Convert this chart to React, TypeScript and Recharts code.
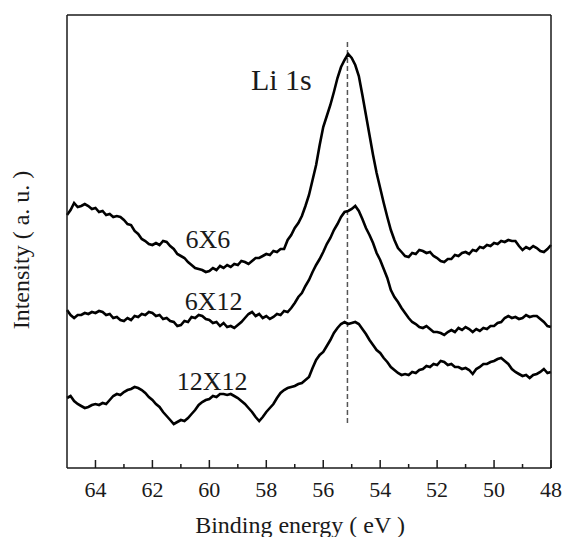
import React from "react";
import { LineChart, Line, XAxis, YAxis, ReferenceLine, ReferenceDot } from "recharts";

// binding energy grid (eV), read left to right
const energy = [
  65, 64.875, 64.75, 64.625, 64.5, 64.375, 64.25, 64.125, 64, 63.875, 63.75, 63.625, 63.5, 63.375, 63.25, 63.125,
  63, 62.875, 62.75, 62.625, 62.5, 62.375, 62.25, 62.125, 62, 61.875, 61.75, 61.625, 61.5, 61.375, 61.25, 61.125,
  61, 60.875, 60.75, 60.625, 60.5, 60.375, 60.25, 60.125, 60, 59.875, 59.75, 59.625, 59.5, 59.375, 59.25, 59.125,
  59, 58.875, 58.75, 58.625, 58.5, 58.375, 58.25, 58.125, 58, 57.875, 57.75, 57.625, 57.5, 57.375, 57.25, 57.125,
  57, 56.875, 56.75, 56.625, 56.5, 56.375, 56.25, 56.125, 56, 55.875, 55.75, 55.625, 55.5, 55.375, 55.25, 55.125,
  55, 54.875, 54.75, 54.625, 54.5, 54.375, 54.25, 54.125, 54, 53.875, 53.75, 53.625, 53.5, 53.375, 53.25, 53.125,
  53, 52.875, 52.75, 52.625, 52.5, 52.375, 52.25, 52.125, 52, 51.875, 51.75, 51.625, 51.5, 51.375, 51.25, 51.125,
  51, 50.875, 50.75, 50.625, 50.5, 50.375, 50.25, 50.125, 50, 49.875, 49.75, 49.625, 49.5, 49.375, 49.25, 49.125,
  49, 48.875, 48.75, 48.625, 48.5, 48.375, 48.25, 48.125, 48,
];

// intensities (a.u., curves already offset as in the figure)
const s6x6 = [
  253, 258, 265, 261, 262, 264, 262, 259, 260, 256, 257, 253, 254, 251, 252, 251,
  248, 244, 243, 237, 234, 229, 227, 224, 223, 225, 223, 227, 226, 222, 219, 214,
  212, 210, 206, 203, 200, 199, 198, 196, 197, 200, 198, 202, 200, 203, 201, 204,
  203, 207, 206, 204, 207, 210, 210, 212, 214, 213, 217, 216, 219, 219, 228, 233,
  240, 245, 252, 262, 273, 288, 303, 323, 341, 352, 363, 376, 390, 401, 408, 414,
  410, 403, 392, 373, 353, 333, 313, 295, 280, 265, 251, 238, 228, 220, 216, 212,
  211, 215, 214, 218, 217, 215, 216, 212, 210, 207, 206, 209, 209, 213, 212, 215,
  216, 214, 218, 217, 221, 220, 223, 222, 225, 224, 227, 226, 228, 227, 227, 222,
  218, 221, 219, 222, 220, 217, 216, 219, 223,
];
const s6x12 = [
  158, 153, 150, 153, 153, 155, 154, 156, 155, 157, 156, 153, 154, 150, 151, 148,
  147, 150, 148, 152, 151, 154, 153, 156, 155, 152, 153, 149, 150, 147, 146, 142,
  143, 147, 146, 151, 150, 153, 152, 149, 148, 145, 146, 142, 145, 141, 142, 140,
  143, 146, 150, 154, 156, 152, 154, 150, 152, 149, 151, 154, 153, 157, 156, 160,
  165, 171, 175, 182, 188, 196, 203, 209, 216, 224, 230, 238, 244, 251, 256, 257,
  259, 262, 257, 249, 240, 233, 225, 215, 208, 199, 190, 178, 171, 166, 160, 155,
  150, 146, 144, 141, 140, 142, 139, 136, 136, 135, 133, 136, 138, 136, 140, 138,
  141, 139, 136, 139, 137, 140, 139, 142, 142, 145, 146, 150, 152, 150, 151, 149,
  150, 153, 151, 152, 152, 149, 146, 142, 141,
];
const s12x12 = [
  70, 72, 67, 64, 62, 60, 61, 63, 64, 63, 65, 64, 68, 72, 74, 73,
  76, 78, 79, 81, 80, 78, 75, 71, 68, 64, 61, 56, 52, 48, 44, 46,
  48, 47, 50, 54, 58, 63, 66, 68, 69, 72, 71, 74, 74, 73, 74, 72,
  70, 67, 64, 60, 56, 51, 47, 51, 56, 60, 64, 70, 75, 78, 80, 81,
  82, 84, 85, 88, 91, 100, 108, 113, 116, 122, 128, 135, 140, 144, 146, 144,
  145, 146, 144, 139, 134, 128, 123, 118, 115, 110, 106, 101, 98, 95, 93, 94,
  93, 96, 95, 98, 99, 102, 101, 104, 103, 107, 106, 103, 104, 101, 101, 99,
  100, 98, 94, 99, 101, 104, 104, 106, 107, 109, 110, 107, 104, 99, 96, 94,
  92, 93, 90, 93, 94, 96, 99, 95, 96,
];

const xTicks = [64, 63, 62, 61, 60, 59, 58, 57, 56, 55, 54, 53, 52, 51, 50, 49, 48];
const peakPos = 55.15;

const data = energy.map((e, i) => ({ e, a: s6x6[i], b: s6x12[i], c: s12x12[i] }));

const FONT = "Liberation Serif";
const INK = "#1a1a1a";

function EnergyTick({ x, y, payload }: any) {
  const major = payload.value % 2 === 0;
  return (
    <g>
      <line x1={x} x2={x} y1={y} y2={y - (major ? 8 : 4)} stroke={INK} strokeWidth={1.5} />
      {major && (
        <text x={x} y={y + 29} textAnchor="middle" style={{ fontFamily: FONT, fontSize: 22 }} fill={INK}>
          {payload.value}
        </text>
      )}
    </g>
  );
}

function note(text: string, size: number) {
  return (props: any) => {
    const vb = props.viewBox;
    return (
      <text x={vb.x + vb.width / 2} y={vb.y + vb.height / 2} textAnchor="middle" style={{ fontFamily: FONT, fontSize: size }} fill={INK}>
        {text}
      </text>
    );
  };
}

export default function App() {
  return (
    <div style={{ position: "absolute", left: 0, top: 0, background: "#fff", fontFamily: FONT }}>
      <LineChart width={563} height={537} data={data} margin={{ top: 0, right: 0, bottom: 0, left: 0 }}>
        <XAxis
          dataKey="e"
          type="number"
          domain={[48, 65]}
          reversed
          ticks={xTicks}
          interval={0}
          tickSize={0}
          tickMargin={0}
          tickLine={false}
          tick={<EnergyTick />}
          height={69}
          axisLine={{ stroke: INK, strokeWidth: 1.5 }}
          label={{
            content: () => (
              <text x={300} y={533} textAnchor="middle" style={{ fontFamily: FONT, fontSize: 24 }} fill={INK}>
                Binding energy ( eV )
              </text>
            ),
          }}
        />
        <XAxis xAxisId="top" orientation="top" type="number" dataKey="e" domain={[48, 65]} reversed tick={false} tickLine={false} height={15} axisLine={{ stroke: INK, strokeWidth: 1.5 }} />
        <YAxis
          type="number"
          domain={[0, 453]}
          tick={false}
          tickLine={false}
          width={67}
          axisLine={{ stroke: INK, strokeWidth: 1.5 }}
          label={{
            content: () => (
              <text x={29} y={250} transform="rotate(-90 29 250)" textAnchor="middle" style={{ fontFamily: FONT, fontSize: 24 }} fill={INK}>
                Intensity ( a. u. )
              </text>
            ),
          }}
        />
        <YAxis yAxisId="r" orientation="right" type="number" domain={[0, 453]} tick={false} tickLine={false} width={12} axisLine={{ stroke: INK, strokeWidth: 1.5 }} />
        <ReferenceLine
          segment={[{ x: peakPos, y: 45 }, { x: peakPos, y: 426 }]}
          stroke="#555"
          strokeWidth={1.5}
          strokeDasharray="5 3"
        />
        <Line type="linear" dataKey="a" stroke="#000" strokeWidth={2.6} dot={false} isAnimationActive={false} />
        <Line type="linear" dataKey="b" stroke="#000" strokeWidth={2.6} dot={false} isAnimationActive={false} />
        <Line type="linear" dataKey="c" stroke="#000" strokeWidth={2.6} dot={false} isAnimationActive={false} />
        <ReferenceDot x={57.47} y={378} r={0} stroke="none" fill="none" label={{ content: note("Li 1s", 30) }} />
        <ReferenceDot x={60.05} y={220} r={0} stroke="none" fill="none" label={{ content: note("6X6", 26) }} />
        <ReferenceDot x={59.85} y={158} r={0} stroke="none" fill="none" label={{ content: note("6X12", 26) }} />
        <ReferenceDot x={59.9} y={78} r={0} stroke="none" fill="none" label={{ content: note("12X12", 26) }} />
      </LineChart>
    </div>
  );
}
